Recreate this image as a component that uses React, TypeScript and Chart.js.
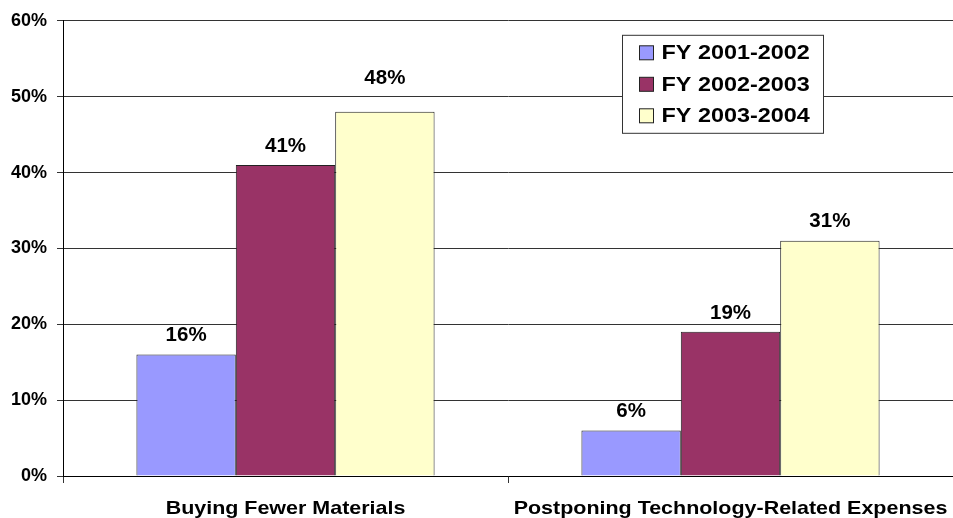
import React, { useEffect, useRef } from "react";
import { Chart, registerables } from "chart.js";

Chart.register(...registerables);

const categories = ["Buying Fewer Materials", "Postponing Technology-Related Expenses"];
const seriesNames = ["FY 2001-2002", "FY 2002-2003", "FY 2003-2004"];
const fy2001 = [16, 6];
const fy2002 = [41, 19];
const fy2003 = [48, 31];
const yTicks = [0, 10, 20, 30, 40, 50, 60];

const COLORS = ["#9999FF", "#993366", "#FFFFCC"];
const FONT = '"Liberation Sans", Arial, Helvetica, sans-serif';
// extra lift (px) for individual value labels, per dataset / category
const LABEL_LIFT = [
  [0, 0],
  [0, 0],
  [14, 0],
];

function stretchedText(ctx: any, text: string, x: number, y: number, sx: number, align: string) {
  ctx.save();
  ctx.translate(x, y);
  ctx.scale(sx, 1);
  ctx.textAlign = align;
  ctx.fillText(text, 0, 0);
  ctx.restore();
}

const valueLabels = {
  id: "valueLabels",
  afterDatasetsDraw(chart: any) {
    const ctx = chart.ctx;
    ctx.save();
    ctx.font = `bold 20.5px ${FONT}`;
    ctx.fillStyle = "#000";
    ctx.textAlign = "center";
    ctx.textBaseline = "middle";
    chart.data.datasets.forEach((ds: any, di: number) => {
      const meta = chart.getDatasetMeta(di);
      meta.data.forEach((bar: any, i: number) => {
        const lift = (LABEL_LIFT[di] && LABEL_LIFT[di][i]) || 0;
        ctx.fillText(`${ds.data[i]}%`, bar.x, bar.y - 19 - lift);
      });
    });
    ctx.restore();
  },
};

const categoryLabels = {
  id: "categoryLabels",
  afterDraw(chart: any) {
    const ctx = chart.ctx;
    const sc = chart.scales.x;
    ctx.save();
    ctx.font = `bold 18.5px ${FONT}`;
    ctx.fillStyle = "#000";
    ctx.textBaseline = "alphabetic";
    chart.data.labels.forEach((lab: string, i: number) => {
      stretchedText(ctx, lab, sc.getPixelForTick(i), sc.top + 37.5, 1.16, "center");
    });
    ctx.restore();
  },
};

const boxLegend = {
  id: "boxLegend",
  afterDraw(chart: any) {
    const ctx = chart.ctx;
    const area = chart.chartArea;
    const left = area.left + 559;
    const top = area.top + 14;
    const w = 201;
    const h = 98;
    ctx.save();
    ctx.fillStyle = "#fff";
    ctx.fillRect(left, top, w, h);
    ctx.strokeStyle = "#333";
    ctx.lineWidth = 1;
    ctx.strokeRect(left + 0.5, top + 0.5, w, h);
    ctx.font = `bold 20px ${FONT}`;
    ctx.textBaseline = "middle";
    chart.data.datasets.forEach((ds: any, i: number) => {
      const cy = top + 18 + i * 31.5;
      ctx.fillStyle = ds.backgroundColor;
      ctx.fillRect(left + 17.5, cy - 7, 14, 14);
      ctx.strokeStyle = "#222";
      ctx.strokeRect(left + 17.5, cy - 7, 14, 14);
      ctx.fillStyle = "#000";
      stretchedText(ctx, ds.label, left + 39.5, cy + 1, 1.17, "left");
    });
    ctx.restore();
  },
};

export default function App() {
  const ref = useRef<HTMLCanvasElement | null>(null);
  useEffect(() => {
    if (!ref.current) return;
    const series = [fy2001, fy2002, fy2003];
    const chart = new Chart(ref.current, {
      type: "bar",
      data: {
        labels: categories,
        datasets: series.map((d, i) => ({
          label: seriesNames[i],
          data: d,
          backgroundColor: COLORS[i],
          borderColor: "#222",
          borderWidth: 1,
          borderSkipped: "bottom",
          barPercentage: 1,
          categoryPercentage: 0.67,
        })),
      },
      options: {
        responsive: false,
        animation: false,
        layout: { padding: { top: 18, right: 0, left: 0, bottom: 0 } },
        plugins: {
          legend: { display: false },
          tooltip: { enabled: false },
          title: { display: false },
        },
        scales: {
          x: {
            offset: true,
            grid: {
              display: true,
              drawOnChartArea: false,
              drawTicks: true,
              tickLength: 7,
              color: "#333",
              offset: true,
            },
            border: { display: true, color: "#000", width: 1 },
            ticks: { display: false },
            afterFit: (s: any) => {
              s.height = 42;
            },
          },
          y: {
            min: 0,
            max: 60,
            afterBuildTicks: (s: any) => {
              s.ticks = yTicks.map((v) => ({ value: v }));
            },
            grid: {
              color: "#333",
              lineWidth: 1,
              drawTicks: true,
              tickLength: 6,
            },
            border: { display: true, color: "#000", width: 1 },
            ticks: {
              color: "#000",
              font: { family: FONT, size: 18, weight: "bold" },
              padding: 10,
              callback: (v: any) => `${v}%`,
            },
            afterFit: (s: any) => {
              s.width = 63;
            },
          },
        },
      },
      plugins: [valueLabels, categoryLabels, boxLegend],
    });
    return () => chart.destroy();
  }, []);

  return (
    <div style={{ position: "absolute", left: 0, top: 0, width: 953, height: 518, background: "#fff" }}>
      <canvas ref={ref} width={953} height={518} />
    </div>
  );
}
